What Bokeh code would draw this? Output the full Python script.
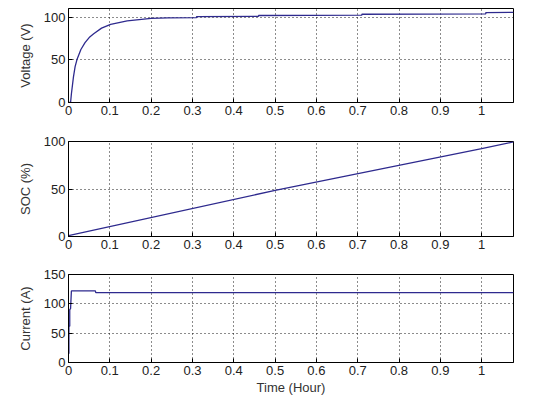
from bokeh.plotting import figure
from bokeh.layouts import column
from bokeh.models import Range1d, FixedTicker
from bokeh.embed import file_html
from bokeh.resources import INLINE

# ---- data ----
volt_t = [0.0, 0.005, 0.007, 0.012, 0.016, 0.021, 0.03, 0.04, 0.05, 0.061, 0.08, 0.102,
          0.142, 0.2, 0.24, 0.31, 0.31, 0.46, 0.46, 0.71, 0.71, 1.01, 1.01, 1.077]
volt_v = [0.0, 0.0, 10, 30, 42, 51, 62, 70, 76, 80.5, 87, 91.5,
          95.5, 98.5, 99.0, 99.3, 100.5, 100.9, 101.8, 102.2, 103.3, 103.8, 105.2, 105.4]

soc_t = [0.0, 0.5, 1.0, 1.077]
soc_v = [1.0, 48.5, 92.5, 99.5]

cur_t = [0.001, 0.001, 0.003, 0.003, 0.005, 0.007, 0.065, 0.066, 1.077]
cur_v = [15, 62, 62, 90, 92, 122, 122, 119, 119]

x_ticks = [0, 0.1, 0.2, 0.3, 0.4, 0.5, 0.6, 0.7, 0.8, 0.9, 1.0]
x_labels = ["0", "0.1", "0.2", "0.3", "0.4", "0.5", "0.6", "0.7", "0.8", "0.9", "1"]

LINE = "#2e2a8e"
FONT = "Liberation Sans"
W = 521


def make(ylabel, yticks, ymax, h, top, bottom, xlabel=None):
    p = figure(width=W, height=h, output_backend="svg", toolbar_location=None,
               x_range=Range1d(0, 1.077), y_range=Range1d(0, ymax),
               min_border_left=68, min_border_right=8,
               min_border_top=top, min_border_bottom=bottom)
    p.outline_line_color = "black"
    p.outline_line_width = 1
    p.background_fill_color = "white"
    p.xaxis.ticker = FixedTicker(ticks=x_ticks)
    p.xaxis.major_label_overrides = {t: l for t, l in zip(x_ticks, x_labels)}
    p.yaxis.ticker = FixedTicker(ticks=yticks)
    p.yaxis.axis_label = ylabel
    if xlabel:
        p.xaxis.axis_label = xlabel
    for ax in (p.xaxis[0], p.yaxis[0]):
        ax.major_tick_in = 4
        ax.major_tick_out = 0
        ax.minor_tick_line_color = None
        ax.axis_line_color = "black"
        ax.major_label_text_font = FONT
        ax.major_label_text_font_size = "13px"
        ax.major_label_text_color = "#222222"
        ax.axis_label_text_font = FONT
        ax.axis_label_text_font_size = "13px"
        ax.axis_label_text_font_style = "normal"
        ax.axis_label_text_color = "#333333"
        ax.major_label_standoff = 3
    p.yaxis.axis_label_standoff = 8
    p.xaxis.axis_label_standoff = 2
    p.grid.grid_line_color = "black"
    p.grid.grid_line_dash = "1 3"
    p.grid.grid_line_alpha = 0.9
    p.xgrid.ticker = FixedTicker(ticks=x_ticks)
    p.ygrid.ticker = FixedTicker(ticks=yticks)
    return p


p1 = make("Voltage (V)", [0, 50, 100], 110, 124, 8, 22)
p1.line(volt_t, volt_v, line_color=LINE, line_width=1.3)

p2 = make("SOC (%)", [0, 50, 100], 100, 132, 17, 20)
p2.line(soc_t, soc_v, line_color=LINE, line_width=1.3)

p3 = make("Current (A)", [0, 50, 100, 150], 150, 141, 18, 29, xlabel="Time (Hour)")
p3.line(cur_t, cur_v, line_color=LINE, line_width=1.3)

layout = column(p1, p2, p3, spacing=0)
open("out.html", "w").write(file_html(layout, INLINE))
